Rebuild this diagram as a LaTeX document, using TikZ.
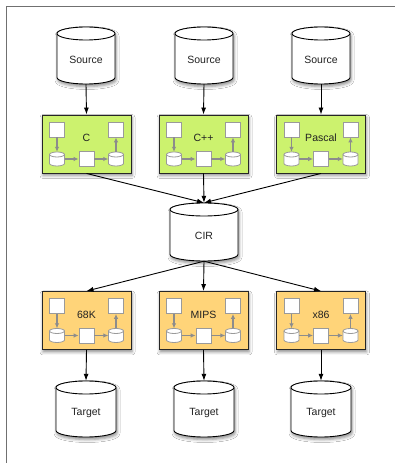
\documentclass[tikz,border=0pt]{standalone}
\usepackage{fontspec}
\setmainfont{Liberation Sans}
\usetikzlibrary{arrows.meta,shadows.blur}

\definecolor{frontgreen}{HTML}{CCF26E}
\definecolor{backorange}{HTML}{FFD479}
\definecolor{framegray}{HTML}{707070}
\definecolor{partgray}{HTML}{9A9A9A}
\definecolor{flowgray}{HTML}{8C8C8C}
\definecolor{ink}{HTML}{222222}

\tikzset{
  x=1pt, y=1pt,
  every node/.style={font=\fontsize{10.5}{12}\selectfont, text=ink},
  softshadow/.style={blur shadow={shadow xshift=1pt, shadow yshift=-2.5pt,
      shadow blur radius=3pt, shadow opacity=45}},
  bigtank/.style={fill=white, draw=black, line width=0.9pt, softshadow},
  bigtank edge/.style={draw=black, line width=0.9pt},
  smalltank/.style={fill=white, draw=partgray, line width=0.8pt},
  smalltank edge/.style={draw=partgray, line width=0.8pt},
  tankspot/.style={rectangle, inner sep=0pt},
  stagebox/.style={rectangle, draw=black!85, line width=0.9pt,
      minimum width=89pt, minimum height=58pt, inner sep=0pt, softshadow},
  part/.style={rectangle, fill=white, draw=partgray, line width=0.8pt,
      minimum size=15pt, inner sep=0pt},
  flow/.style={draw=black, line width=0.9pt, -{Latex[length=7pt,width=5pt]}},
  innerflow/.style={draw=flowgray, line width=1.2pt, -{Latex[length=5pt,width=4.5pt]}},
}

% cylinder: #1 style, #2 name, #3 x, #4 y, #5 width, #6 height, #7 cap radius, #8 text
\newcommand\barrel[8]{%
  \path[#1] (#3-#5/2,#4+#6/2-#7) -- (#3-#5/2,#4-#6/2+#7)
    arc[start angle=180, end angle=360, x radius=#5/2, y radius=#7]
    -- (#3+#5/2,#4+#6/2-#7)
    arc[start angle=0, end angle=180, x radius=#5/2, y radius=#7] -- cycle;
  \draw[#1 edge] (#3-#5/2,#4+#6/2-#7)
    arc[start angle=180, end angle=360, x radius=#5/2, y radius=#7];
  \node[tankspot, minimum width=#5, minimum height=#6] (#2) at (#3,#4) {};
  \node (#2-txt) at (#3,#4-4) {#8};
}

% compiler stage: #1 name, #2 x, #3 y, #4 fill colour, #5 label
\newcommand\stage[5]{%
  \node[stagebox, fill=#4] (#1) at (#2,#3) {};
  \node (#1-lbl) at (#2,#3+6) {#5};
  \node[part] (#1-in)  at (#2-29.5,#3+14.5) {};
  \node[part] (#1-out) at (#2+29.5,#3+14.5) {};
  \node[part] (#1-mid) at (#2,#3-15) {};
  \barrel{smalltank}{#1-l}{#2-29.5}{#3-15}{15}{14}{2.5}{}
  \barrel{smalltank}{#1-r}{#2+29.5}{#3-15}{15}{14}{2.5}{}
  \draw[innerflow] (#1-in.south) -- (#1-l.north);
  \draw[innerflow] (#1-l.east) -- (#1-mid.west);
  \draw[innerflow] (#1-mid.east) -- (#1-r.west);
  \draw[innerflow] (#1-r.north) -- (#1-out.south);
}

\begin{document}
\begin{tikzpicture}
  \useasboundingbox (0,0) rectangle (395,463);
  \fill[white] (0,0) rectangle (395,463);
  \draw[framegray, line width=1.3pt] (6.5,0) -- (6.5,456.5) -- (395,456.5);

  % sources
  \barrel{bigtank}{src1}{86}{407.5}{58}{57}{6.5}{Source}
  \barrel{bigtank}{src2}{204}{407.5}{58}{57}{6.5}{Source}
  \barrel{bigtank}{src3}{321}{407.5}{58}{57}{6.5}{Source}

  % front ends
  \stage{fe1}{86.5}{319}{frontgreen}{C}
  \stage{fe2}{203.5}{319}{frontgreen}{C++}
  \stage{fe3}{321}{319}{frontgreen}{Pascal}

  % common IR
  \barrel{bigtank}{cir}{204}{231}{68}{58}{6.5}{CIR}

  % back ends
  \stage{be1}{86.5}{142.5}{backorange}{68K}
  \stage{be2}{203.5}{142.5}{backorange}{MIPS}
  \stage{be3}{321}{142.5}{backorange}{x86}

  % targets
  \barrel{bigtank}{tgt1}{86}{54}{60}{56}{6.5}{Target}
  \barrel{bigtank}{tgt2}{204}{54}{60}{56}{6.5}{Target}
  \barrel{bigtank}{tgt3}{321}{54}{60}{56}{6.5}{Target}

  % connectors
  \foreach \i in {1,2,3} {
    \draw[flow] (src\i.south) -- (fe\i.north);
    \draw[flow] (fe\i.south) -- (cir.north);
    \draw[flow] (cir.south) -- (be\i.north);
    \draw[flow] (be\i.south) -- (tgt\i.north);
  }
\end{tikzpicture}
\end{document}
